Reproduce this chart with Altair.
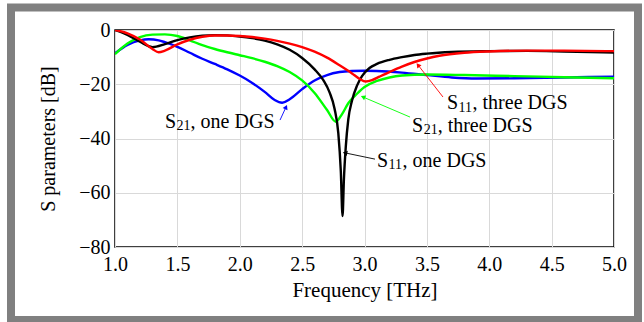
import math
import altair as alt
import pandas as pd

# Frequency sweep (THz) and S-parameter magnitudes (dB) for each structure
f_s11_one = [1.0, 1.1, 1.2, 1.3, 1.4, 1.5, 1.6, 1.7, 1.8, 1.9, 2.0, 2.1, 2.2, 2.3, 2.4, 2.5,
             2.6, 2.67, 2.72, 2.76, 2.79, 2.81, 2.824, 2.835, 2.85, 2.87, 2.9, 2.94, 2.98,
             3.04, 3.1, 3.2, 3.3, 3.4, 3.5, 3.7, 4.0, 4.3, 4.6, 5.0]
s11_one = [0.0, -1.8, -4.3, -6.3, -5.2, -3.7, -2.7, -2.1, -1.9, -2.0, -2.4, -3.0, -3.9, -5.3,
           -7.3, -10.3, -14.5, -18.5, -23.0, -29.0, -38.0, -52.0, -68.6, -55.0, -43.0, -33.0,
           -26.0, -20.5, -17.0, -14.0, -12.5, -11.0, -10.0, -9.2, -8.7, -8.1, -7.8, -7.7, -7.9, -8.3]

f_s11_three = [1.0, 1.1, 1.2, 1.3, 1.35, 1.4, 1.5, 1.6, 1.7, 1.8, 1.9, 2.0, 2.1, 2.2, 2.3, 2.4,
               2.5, 2.6, 2.7, 2.8, 2.9, 2.96, 3.01, 3.06, 3.12, 3.2, 3.3, 3.4, 3.5, 3.6, 3.8,
               4.0, 4.3, 4.6, 5.0]
s11_three = [0.0, -1.2, -3.5, -7.0, -8.2, -7.6, -5.3, -3.6, -2.5, -2.0, -2.0, -2.2, -2.6, -3.2,
             -4.0, -5.0, -6.3, -8.0, -10.2, -13.0, -16.0, -18.0, -19.0, -18.5, -17.2, -15.5,
             -13.5, -11.8, -10.5, -9.5, -8.4, -7.9, -7.6, -7.6, -7.8]

f_s21_one = [1.0, 1.1, 1.2, 1.27, 1.35, 1.4, 1.5, 1.6, 1.7, 1.8, 1.9, 2.0, 2.1, 2.2, 2.28, 2.34,
             2.4, 2.5, 2.6, 2.7, 2.8, 2.9, 3.0, 3.1, 3.3, 3.5, 3.7, 3.9, 4.2, 4.6, 5.0]
s21_one = [-8.6, -5.5, -3.8, -3.4, -3.8, -4.5, -6.2, -8.4, -10.6, -12.5, -14.5, -16.8, -19.5,
           -22.8, -25.8, -26.8, -25.5, -21.8, -18.6, -16.6, -15.5, -15.1, -15.0, -15.1, -15.7,
           -16.6, -17.5, -17.9, -17.8, -17.5, -17.2]

f_s21_three = [1.0, 1.1, 1.2, 1.3, 1.4, 1.5, 1.6, 1.7, 1.8, 1.9, 2.0, 2.1, 2.2, 2.3, 2.4, 2.5,
               2.6, 2.7, 2.77, 2.82, 2.87, 2.94, 3.0, 3.1, 3.2, 3.3, 3.5, 3.8, 4.2, 4.6, 5.0]
s21_three = [-8.9, -5.0, -2.6, -1.7, -1.6, -2.2, -3.8, -5.6, -7.0, -8.2, -9.3, -10.4, -11.7,
             -13.3, -15.5, -18.6, -23.2, -29.5, -33.8, -31.0, -27.0, -23.5, -21.0, -18.8, -17.5,
             -16.8, -16.4, -16.6, -17.0, -17.4, -17.8]

x_ticks = [1.0, 1.5, 2.0, 2.5, 3.0, 3.5, 4.0, 4.5, 5.0]
y_ticks = [0, -20, -40, -60, -80]

# Annotation text: main symbol, subscript, remainder, colour,
# text anchor (THz, dB), arrow tail and arrow head (THz, dB)
ann_main = ["S", "S", "S", "S"]
ann_sub = ["11", "21", "11", "21"]
ann_rest = [", three DGS", ", three DGS", ", one DGS", ", one DGS"]
ann_color = ["#ff0000", "#00ff00", "#000000", "#0000ff"]
ann_f = [3.661, 3.381, 3.100, 1.401]
ann_db = [-29.3, -37.6, -50.5, -36.1]
tail_f = [3.629, 3.365, 3.084, 2.323]
tail_db = [-24.7, -32.1, -47.6, -33.2]
head_f = [3.429, 2.988, 2.844, 2.371]
head_db = [-12.9, -24.7, -45.3, -28.4]

W, H = 499, 217
FONT = "Liberation Serif"
FS = 20
SUB_FS = 14

xs = alt.Scale(domain=[1.0, 5.0], nice=False, zero=False)
ys = alt.Scale(domain=[-80, 0], nice=False, zero=False)

rows = []
for name, fs, vs in [("S21, one DGS", f_s21_one, s21_one),
                     ("S21, three DGS", f_s21_three, s21_three),
                     ("S11, one DGS", f_s11_one, s11_one),
                     ("S11, three DGS", f_s11_three, s11_three)]:
    for f, v in zip(fs, vs):
        rows.append({"series": name, "f": f, "db": v})
curves = pd.DataFrame(rows)

series_order = ["S21, one DGS", "S21, three DGS", "S11, one DGS", "S11, three DGS"]
series_colors = ["#0000ff", "#00ff00", "#000000", "#ff0000"]

lines = alt.Chart(curves).mark_line(strokeWidth=2.4, interpolate="monotone", clip=True).encode(
    x=alt.X("f:Q", scale=xs,
            axis=alt.Axis(values=x_ticks, format=".1f", title="Frequency [THz]",
                          grid=True, ticks=False, domain=False, labelPadding=7,
                          labelFlush=False, titlePadding=5, titleFontSize=21)),
    y=alt.Y("db:Q", scale=ys,
            axis=alt.Axis(values=y_ticks, format="d", title="S parameters [dB]",
                          grid=True, ticks=False, domain=False, labelPadding=5,
                          labelFlush=False, titlePadding=20)),
    color=alt.Color("series:N", scale=alt.Scale(domain=series_order, range=series_colors),
                    legend=None),
    detail="series:N",
    order=alt.Order("f:Q"),
)

ann = pd.DataFrame({
    "main": ann_main, "sub": ann_sub, "rest": ann_rest, "color": ann_color,
    "f": ann_f, "db": ann_db, "tf": tail_f, "tdb": tail_db, "hf": head_f, "hdb": head_db,
})
# arrowhead rotation from the on-screen direction of each arrow
ann["angle"] = [
    (math.degrees(math.atan2((hf - tf) * W / 4.0, (hd - td) * H / 80.0)) + 360) % 360
    for tf, td, hf, hd in zip(tail_f, tail_db, head_f, head_db)
]

base = alt.Chart(ann)
pos = dict(x=alt.X("f:Q", scale=xs), y=alt.Y("db:Q", scale=ys))
txt_main = base.mark_text(font=FONT, fontSize=FS, align="left", baseline="alphabetic").encode(
    text="main:N", color=alt.value("black"), **pos)
txt_sub = base.mark_text(font=FONT, fontSize=SUB_FS, align="left", baseline="alphabetic",
                         dx=11.6, dy=2.5).encode(
    text="sub:N", color=alt.value("black"), **pos)
txt_rest = base.mark_text(font=FONT, fontSize=FS, align="left", baseline="alphabetic",
                          dx=25.6).encode(
    text="rest:N", color=alt.value("black"), **pos)

arrow_line = base.mark_rule(strokeWidth=0.9).encode(
    x=alt.X("tf:Q", scale=xs), y=alt.Y("tdb:Q", scale=ys),
    x2="hf:Q", y2="hdb:Q",
    color=alt.Color("color:N", scale=None))
arrow_head = base.mark_point(shape="triangle-up", filled=True, size=28, opacity=1).encode(
    x=alt.X("hf:Q", scale=xs), y=alt.Y("hdb:Q", scale=ys),
    angle=alt.Angle("angle:Q", scale=None),
    color=alt.Color("color:N", scale=None))

# grey picture frame around the whole figure
frame = alt.Chart(pd.DataFrame({"k": [0]})).mark_rect(
    fill=None, stroke="#808080", strokeWidth=8, clip=False).encode(
    x=alt.value(-104), x2=alt.value(523), y=alt.value(-22.5), y2=alt.value(290))

chart = alt.layer(frame, lines, arrow_line, arrow_head, txt_main, txt_sub, txt_rest).properties(
    width=W, height=H,
    autosize=alt.AutoSizeParams(type="none"),
    padding={"left": 115, "top": 30, "right": 30, "bottom": 75},
    background="white",
).configure_view(
    stroke="black", strokeWidth=1.5
).configure_axis(
    labelFont=FONT, labelFontSize=FS, labelColor="black",
    titleFont=FONT, titleFontSize=FS, titleColor="black", titleFontWeight="normal",
    gridColor="#d9d9d9", gridWidth=1,
)

chart.save("out.html", embed_options={"renderer": "svg", "actions": False})
